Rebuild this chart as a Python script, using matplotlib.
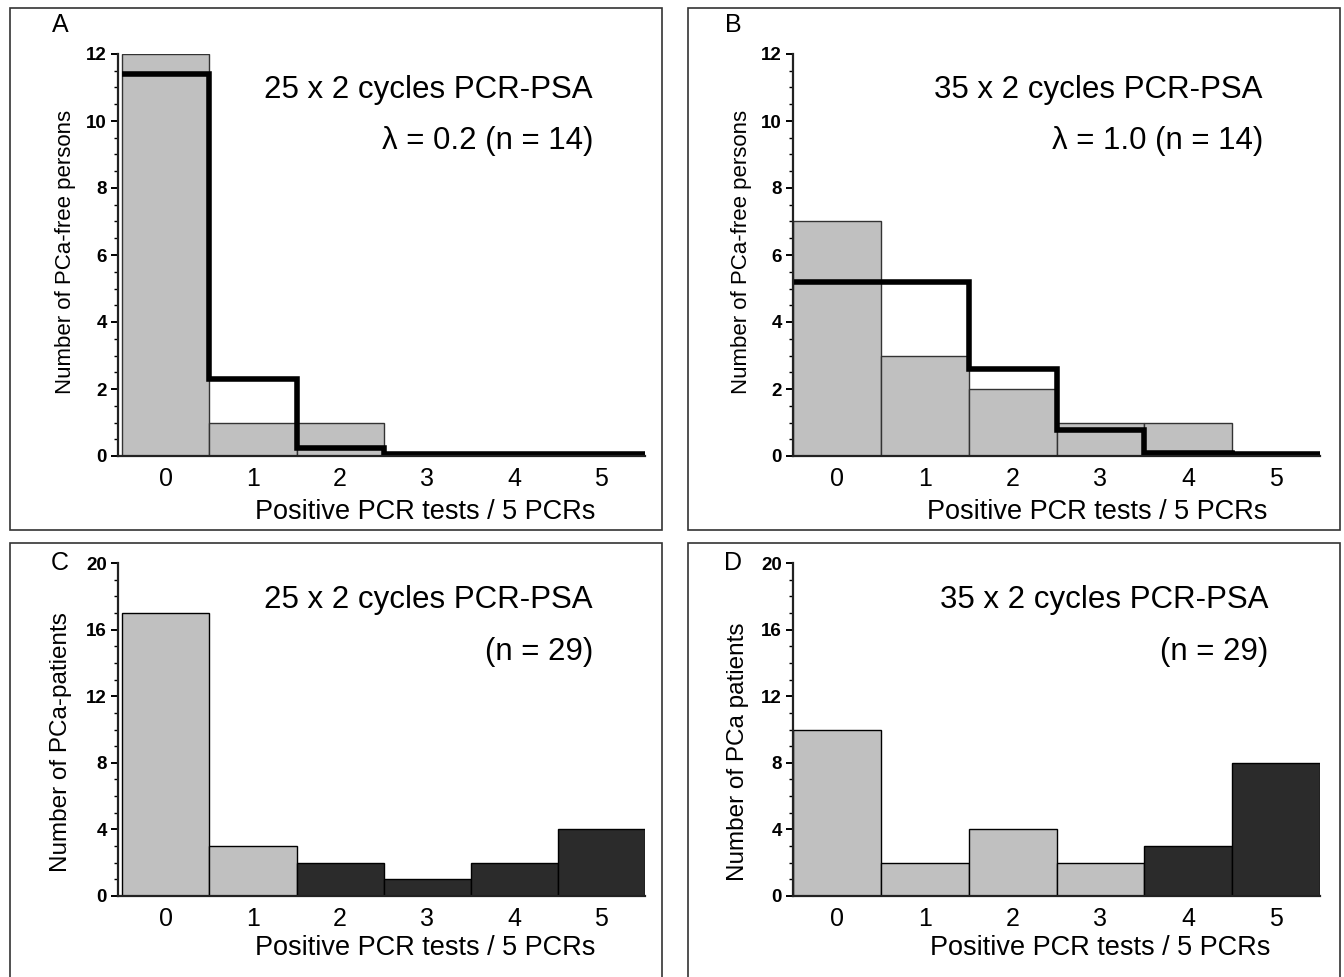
import matplotlib
matplotlib.use("Agg")
import matplotlib.pyplot as plt
from matplotlib.patches import Rectangle
from matplotlib.ticker import MultipleLocator

plt.rcParams["font.family"] = ["Liberation Sans", "DejaVu Sans"]

# ==================================================
# Data
# ==================================================

positives = [0, 1, 2, 3, 4, 5]

a_observed = [12, 1, 1, 0, 0, 0]
a_expected = [11.4, 2.3, 0.25, 0.05, 0.05, 0.05]

b_observed = [7, 3, 2, 1, 1, 0]
b_expected = [5.2, 5.2, 2.6, 0.78, 0.08, 0.05]

c_counts = [17, 3, 2, 1, 2, 4]
d_counts = [10, 2, 4, 2, 3, 8]

c_dark_from = 2
d_dark_from = 4

W, H = 1344, 977
LIGHT = "#c0c0c0"
DARK = "#2b2b2b"
EDGE = "#333333"

fig = plt.figure(figsize=(W / 100, H / 100), dpi=100)


def px_axes(left, right, top, bottom):
    return fig.add_axes([left / W, 1 - bottom / H, (right - left) / W, (bottom - top) / H])


def fig_text(x, y, s, **kw):
    fig.text(x / W, 1 - y / H, s, **kw)


# panel frames
for (x0, y0, x1, y1) in [(10, 8, 662, 530), (688, 8, 1340, 530),
                         (10, 543, 662, 985), (688, 543, 1340, 985)]:
    fig.patches.append(Rectangle((x0 / W, 1 - y1 / H), (x1 - x0) / W, (y1 - y0) / H,
                                 transform=fig.transFigure, fill=False,
                                 edgecolor="#333333", linewidth=1.2))


def style_axes(ax, xlim, ylim, major, minor):
    ax.set_xlim(*xlim)
    ax.set_ylim(*ylim)
    for side in ["top", "right"]:
        ax.spines[side].set_visible(False)
    for side in ["left", "bottom"]:
        ax.spines[side].set_linewidth(1.6)
        ax.spines[side].set_color("#222222")
    ax.yaxis.set_major_locator(MultipleLocator(major))
    ax.yaxis.set_minor_locator(MultipleLocator(minor))
    ax.set_xticks(positives)
    ax.tick_params(axis="x", length=0, labelsize=18, pad=8)
    ax.tick_params(axis="y", which="major", length=5, width=1.4, labelsize=13.5, pad=3)
    ax.tick_params(axis="y", which="minor", length=3, width=1.0)
    for lbl in ax.get_yticklabels():
        lbl.set_fontweight("bold")
    ax.patch.set_alpha(0)


# ==================================================
# A
# ==================================================

ax = px_axes(118, 645, 54, 456)
ax.bar(positives, a_observed, width=1.0, color=LIGHT, edgecolor=EDGE, linewidth=1.0)
ax.stairs(a_expected, [p - 0.5 for p in positives] + [5.5], baseline=None,
          color="black", linewidth=4)
style_axes(ax, (-0.55, 5.5), (0, 12), 2, 0.5)

# ==================================================
# B
# ==================================================

ax = px_axes(793, 1320, 54, 456)
ax.bar(positives, b_observed, width=1.0, color=LIGHT, edgecolor=EDGE, linewidth=1.0)
ax.stairs(b_expected, [p - 0.5 for p in positives] + [5.5], baseline=None,
          color="black", linewidth=4)
style_axes(ax, (-0.5, 5.5), (0, 12), 2, 0.5)

# ==================================================
# C
# ==================================================

ax = px_axes(118, 645, 563, 896)
ax.bar(positives, c_counts, width=1.0,
       color=[LIGHT if p < c_dark_from else DARK for p in positives],
       edgecolor="black", linewidth=1.0)
style_axes(ax, (-0.55, 5.5), (0, 20), 4, 1)

# ==================================================
# D
# ==================================================

ax = px_axes(793, 1320, 563, 896)
ax.bar(positives, d_counts, width=1.0,
       color=[LIGHT if p < d_dark_from else DARK for p in positives],
       edgecolor="black", linewidth=1.0)
style_axes(ax, (-0.5, 5.5), (0, 20), 4, 1)

# ==================================================
# Texts
# ==================================================

big = dict(fontsize=22.5, ha="right", va="center")
fig_text(593, 90, "25 x 2 cycles PCR-PSA", **big)
fig_text(593, 141, "λ = 0.2 (n = 14)", **big)
fig_text(1263, 90, "35 x 2 cycles PCR-PSA", **big)
fig_text(1263, 141, "λ = 1.0 (n = 14)", **big)
fig_text(593, 600, "25 x 2 cycles PCR-PSA", **big)
fig_text(593, 652, "(n = 29)", **big)
fig_text(1268, 600, "35 x 2 cycles PCR-PSA", **big)
fig_text(1268, 652, "(n = 29)", **big)

xl = dict(fontsize=19.5, ha="center", va="center")
fig_text(425, 512, "Positive PCR tests / 5 PCRs", **xl)
fig_text(1097, 512, "Positive PCR tests / 5 PCRs", **xl)
fig_text(425, 948, "Positive PCR tests / 5 PCRs", **xl)
fig_text(1100, 948, "Positive PCR tests / 5 PCRs", **xl)

fig_text(66, 252, "Number of PCa-free persons", fontsize=16,
         ha="center", va="center", rotation=90)
fig_text(741, 252, "Number of PCa-free persons", fontsize=16,
         ha="center", va="center", rotation=90)
fig_text(61, 742, "Number of PCa-patients", fontsize=17.5,
         ha="center", va="center", rotation=90)
fig_text(738, 752, "Number of PCa patients", fontsize=17.5,
         ha="center", va="center", rotation=90)

pl = dict(fontsize=18, ha="center", va="center")
fig_text(60, 25, "A", **pl)
fig_text(733, 25, "B", **pl)
fig_text(60, 563, "C", **pl)
fig_text(733, 563, "D", **pl)

fig.savefig("out.png", dpi=100)
